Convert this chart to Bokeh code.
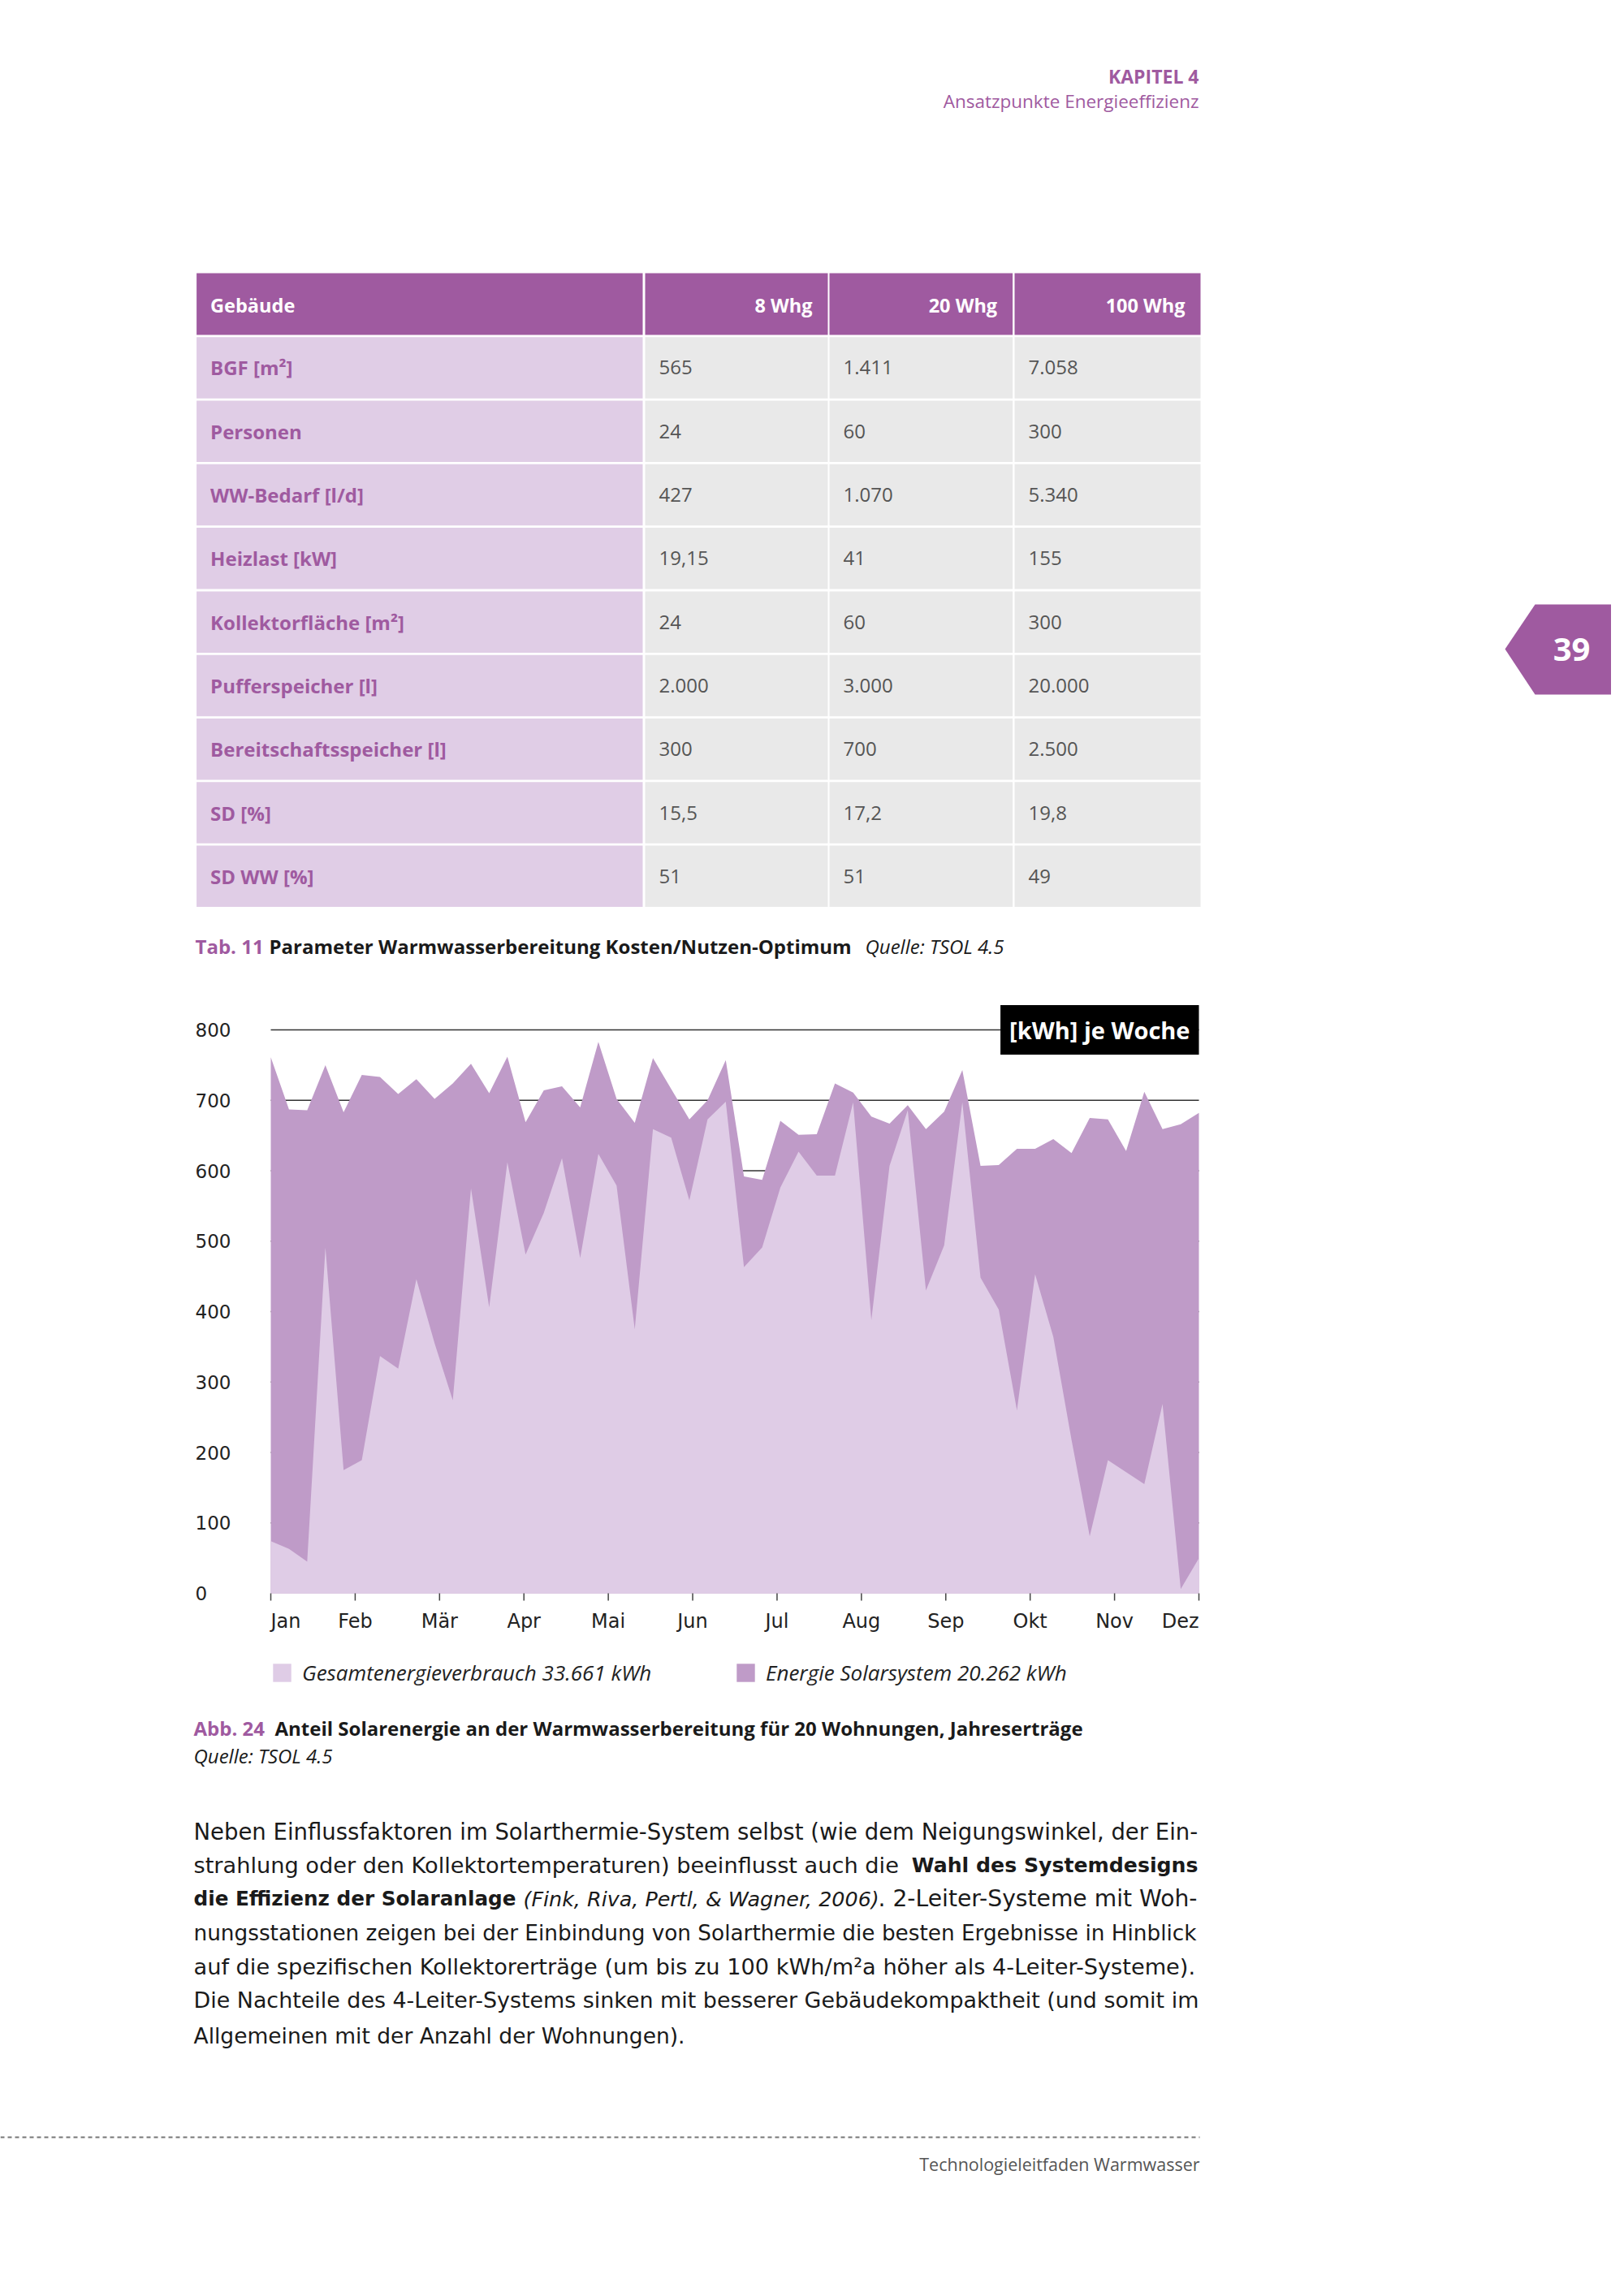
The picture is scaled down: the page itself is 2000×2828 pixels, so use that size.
import numpy as np
from bokeh.plotting import figure
from bokeh.models import Range1d, Label, Legend, LegendItem
from bokeh.layouts import column
from bokeh.core.properties import value
from bokeh.embed import file_html
from bokeh.resources import INLINE

# ------------------------------------------------------------------ data
header_cells = ["Gebäude", "8 Whg", "20 Whg", "100 Whg"]
row_labels = ["BGF [m²]", "Personen", "WW-Bedarf [l/d]", "Heizlast [kW]",
              "Kollektorfläche  [m²]", "Pufferspeicher [l]",
              "Bereitschaftsspeicher [l]", "SD [%]", "SD WW [%]"]
vals_8 = ["565", "24", "427", "19,15", "24", "2.000", "300", "15,5", "51"]
vals_20 = ["1.411", "60", "1.070", "41", "60", "3.000", "700", "17,2", "51"]
vals_100 = ["7.058", "300", "5.340", "155", "300", "20.000", "2.500", "19,8", "49"]

weeks = list(range(1, 53))
# light area (legend: Gesamtenergieverbrauch)
gesamt = [74, 63, 45, 491, 175, 189, 337, 319, 446, 355, 274, 575, 406, 612,
          481, 540, 618, 476, 624, 579, 375, 659, 647, 558, 673, 698, 463, 491,
          576, 627, 593, 593, 697, 388, 607, 686, 430, 494, 697, 448, 403, 260,
          453, 364, 218, 81, 189, 172, 155, 269, 6, 50]
# dark area (legend: Energie Solarsystem)
solar = [761, 687, 686, 750, 683, 736, 733, 709, 730, 702, 724, 752, 710, 762,
         669, 714, 720, 690, 783, 702, 668, 760, 716, 673, 700, 757, 592, 587,
         671, 651, 652, 724, 711, 677, 667, 693, 659, 684, 743, 607, 608, 631,
         631, 645, 625, 675, 673, 628, 712, 659, 666, 682]
months = ["Jan", "Feb", "Mär", "Apr", "Mai", "Jun", "Jul", "Aug", "Sep", "Okt", "Nov", "Dez"]
y_ticks = [0, 100, 200, 300, 400, 500, 600, 700, 800]
legend_gesamt = "Gesamtenergieverbrauch 33.661 kWh"
legend_solar = "Energie Solarsystem 20.262 kWh"

# ------------------------------------------------------------------ style
FONT = "Open Sans"
BODY = "DejaVu Sans"
PURPLE = "#9F5AA0"
LIGHT = "#DFCCE6"
DARK = "#BF9BC8"
LABEL_BG = "#E0CDE6"
CELL_BG = "#E9E9E9"
TXT = "#1A1A1A"
W = 1984


def page_fig(y0, y1):
    p = figure(width=W, height=int(y1 - y0), x_range=Range1d(0, W),
               y_range=Range1d(y1, y0), output_backend="svg",
               toolbar_location=None, min_border=0,
               x_axis_location=None, y_axis_location=None)
    p.grid.visible = False
    p.outline_line_color = None
    return p


def txt(p, x, y, s, size, color=TXT, style="normal", align="left", font=FONT):
    p.text(x=[x], y=[y], text=[s], text_font=value(font),
           text_font_size=f"{size}px", text_color=color,
           text_font_style=style, text_align=align, text_baseline="middle")


# ------------------------------------------------------------------ top part
top = page_fig(0, 1225)
txt(top, 1476, 93, "KAPITEL 4", 23, PURPLE, "bold", "right")
txt(top, 1476, 124, "Ansatzpunkte Energieeffizienz", 22.5, PURPLE, "normal", "right")

col_l = [241.6, 794, 1021, 1249]
col_r = [791, 1019, 1246.6, 1478]
top.quad(left=col_l, right=col_r, top=[336] * 4, bottom=[412] * 4,
         color=PURPLE, line_color=None)
txt(top, col_l[0] + 17, 375, header_cells[0], 23.5, "white", "bold", "left")
for j in range(1, 4):
    txt(top, col_r[j] - 19, 375, header_cells[j], 23.5, "white", "bold", "right")

n = len(row_labels)
row_top = [414.7 + 78.3 * k for k in range(n)]
row_bot = [t + 75.5 for t in row_top]
row_mid = [(a + b) / 2 for a, b in zip(row_top, row_bot)]
top.quad(left=[col_l[0]] * n, right=[col_r[0]] * n, top=row_top, bottom=row_bot,
         color=LABEL_BG, line_color=None)
for j in range(1, 4):
    top.quad(left=[col_l[j]] * n, right=[col_r[j]] * n, top=row_top, bottom=row_bot,
             color=CELL_BG, line_color=None)
top.text(x=[col_l[0] + 17] * n, y=row_mid, text=row_labels, text_font=value(FONT),
         text_font_size="24px", text_color=PURPLE, text_font_style="bold",
         text_baseline="middle")
for j, vals in zip(range(1, 4), [vals_8, vals_20, vals_100]):
    top.text(x=[col_l[j] + 17] * n, y=row_mid, text=vals, text_font=value(FONT),
             text_font_size="24px", text_color="#555555", text_baseline="middle")

txt(top, 240, 1165, "Tab. 11", 24, PURPLE, "bold")
txt(top, 331, 1165, "Parameter Warmwasserbereitung Kosten/Nutzen-Optimum", 24, TXT, "bold")
txt(top, 1065, 1165, "Quelle: TSOL 4.5", 24, TXT, "italic")

# page tab
top.patch(x=[1853, 1890, 2000, 2000, 1890], y=[799, 744, 744, 855, 855],
          color=PURPLE, line_color=None)
txt(top, 1935, 799, "39", 40, "white", "bold", "center")

# ------------------------------------------------------------------ chart
px_per_week = 1143 / 51
px_per_unit = 694 / 800
chart = figure(width=W, height=870, output_backend="svg", toolbar_location=None,
               x_range=Range1d(1 - 333 / px_per_week, 52 + (W - 1476) / px_per_week),
               y_range=Range1d(-(2095 - 1962) / px_per_unit, 800 + (1268 - 1225) / px_per_unit),
               min_border=0, x_axis_location=None, y_axis_location=None)
chart.grid.visible = False
chart.outline_line_color = None

grid_vals = y_ticks[1:]
chart.segment(x0=[weeks[0]] * len(grid_vals), x1=[weeks[-1]] * len(grid_vals),
              y0=grid_vals, y1=grid_vals, line_color="#333333", line_width=1.5)
r_solar = chart.varea(x=weeks, y1=[0] * len(weeks), y2=solar, fill_color=DARK)
r_gesamt = chart.varea(x=weeks, y1=[0] * len(weeks), y2=gesamt, fill_color=LIGHT)

month_pos = list(np.linspace(weeks[0], weeks[-1], len(months)))
tick_len = 9 / px_per_unit
chart.segment(x0=month_pos, x1=month_pos, y0=[0] * 12, y1=[-tick_len] * 12,
              line_color="#444444", line_width=1.5)
aligns = ["left"] + ["center"] * 10 + ["right"]
chart.text(x=month_pos, y=[0] * 12, text=months, text_align=aligns,
           text_baseline="middle", y_offset=34, text_font=value(BODY),
           text_font_size="24px", text_color="#222222")
chart.text(x=[weeks[0]] * len(y_ticks), y=y_ticks, text=[str(v) for v in y_ticks],
           x_offset=-93, text_align="left", text_baseline="middle",
           text_font=value(BODY), text_font_size="23px", text_color="#222222")

chart.add_layout(Label(x=weeks[-1], y=800, text="[kWh] je Woche", text_align="right",
                       text_baseline="middle", x_offset=0, text_color="white",
                       text_font=FONT, text_font_style="bold", text_font_size="29px",
                       background_fill_color="black", padding=11))

leg_kw = dict(orientation="horizontal", background_fill_alpha=0, border_line_color=None,
              padding=0, margin=0, glyph_width=28, glyph_height=28, label_standoff=11,
              label_text_font=FONT, label_text_font_style="italic",
              label_text_font_size="26px", label_text_color="#222222",
              label_height=28, spacing=0)
chart.add_layout(Legend(items=[LegendItem(label=legend_gesamt, renderers=[r_gesamt])],
                        location=(333, 17), **leg_kw))
chart.add_layout(Legend(items=[LegendItem(label=legend_solar, renderers=[r_solar])],
                        location=(904, 17), **leg_kw))

# ------------------------------------------------------------------ bottom part
bot = page_fig(2095, 2812)
txt(bot, 238, 2128, "Abb. 24", 24, PURPLE, "bold")
txt(bot, 338, 2128, "Anteil Solarenergie an der Warmwasserbereitung für 20 Wohnungen, Jahreserträge", 24, TXT, "bold")
txt(bot, 238, 2162, "Quelle: TSOL 4.5", 24, TXT, "italic")

txt(bot, 238, 2255, "Neben Einflussfaktoren im Solarthermie-System selbst (wie dem Neigungswinkel, der Ein-", 27.5, font=BODY)
txt(bot, 238, 2297, "strahlung oder den Kollektortemperaturen) beeinflusst auch die", 27.2, font=BODY)
txt(bot, 1475, 2297, "Wahl des Systemdesigns", 25.2, TXT, "bold", "right", font=BODY)
txt(bot, 238, 2338, "die Effizienz der Solaranlage", 24.7, TXT, "bold", font=BODY)
txt(bot, 644, 2338, "(Fink, Riva, Pertl, & Wagner, 2006)", 25.4, TXT, "italic", font=BODY)
txt(bot, 1081, 2338, ". 2-Leiter-Systeme mit Woh-", 28.2, TXT, "normal", "left", font=BODY)
txt(bot, 238, 2380, "nungsstationen zeigen bei der Einbindung von Solarthermie die besten Ergebnisse in Hinblick", 26.3, font=BODY)
txt(bot, 238, 2422, "auf die spezifischen Kollektorerträge (um bis zu 100 kWh/m²a höher als 4-Leiter-Systeme).", 27.2, font=BODY)
txt(bot, 238, 2463, "Die Nachteile des 4-Leiter-Systems sinken mit besserer Gebäudekompaktheit (und somit im", 26.9, font=BODY)
txt(bot, 238, 2507, "Allgemeinen mit der Anzahl der Wohnungen).", 26.5, font=BODY)

bot.segment(x0=[0], x1=[1477], y0=[2632], y1=[2632], line_color="#777777",
            line_width=2, line_dash="5 4")
txt(bot, 1477, 2665, "Technologieleitfaden Warmwasser", 21.5, "#555555", "normal", "right")

layout = column(top, chart, bot, spacing=0)
open("out.html", "w").write(file_html(layout, INLINE))
